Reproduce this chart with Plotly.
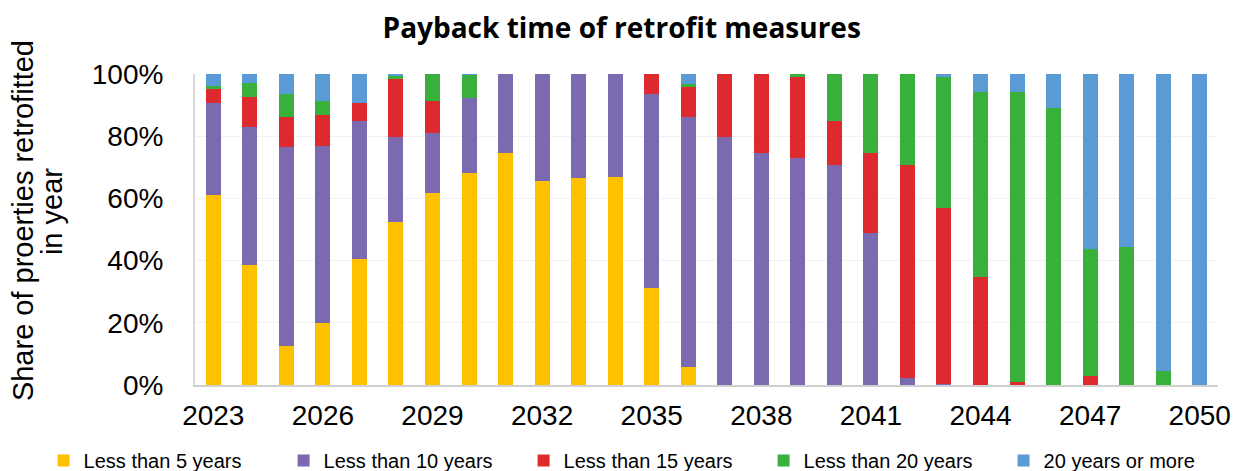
import plotly.graph_objects as go

# datos (porcentaje por anio)
anios = list(range(2023, 2051))
menos_5 = [61.0, 38.6, 12.5, 20.0, 40.6, 52.3, 61.7, 68.2, 74.6, 65.6, 66.5, 66.9, 31.3, 5.7,
           0, 0, 0, 0, 0, 0, 0, 0, 0, 0, 0, 0, 0, 0]
menos_10 = [29.6, 44.3, 63.9, 56.7, 44.3, 27.4, 19.3, 24.0, 25.4, 34.4, 33.5, 33.1, 62.2, 80.4,
            79.7, 74.5, 72.9, 70.6, 48.8, 2.1, 0.2, 0, 0, 0, 0, 0, 0, 0]
menos_15 = [4.5, 9.6, 9.9, 10.0, 5.9, 18.6, 10.3, 0, 0, 0, 0, 0, 6.5, 9.8,
            20.3, 25.5, 26.0, 14.2, 25.7, 68.5, 56.8, 34.6, 1.1, 0, 3.0, 0, 0, 0]
menos_20 = [1.1, 4.5, 7.3, 4.5, 0, 1.3, 8.7, 7.6, 0, 0, 0, 0, 0, 1.0,
            0, 0, 1.1, 15.2, 25.5, 29.4, 41.9, 59.7, 93.2, 89.2, 40.6, 44.5, 4.6, 0]
mas_20 = [3.8, 3.0, 6.4, 8.8, 9.2, 0.4, 0, 0.2, 0, 0, 0, 0, 0, 3.1,
          0, 0, 0, 0, 0, 0, 1.1, 5.7, 5.7, 10.8, 56.4, 55.5, 95.4, 100]

series = [
    ("Less than 5 years", menos_5, "#FFC000"),
    ("Less than 10 years", menos_10, "#7B6AAF"),
    ("Less than 15 years", menos_15, "#DD2A2E"),
    ("Less than 20 years", menos_20, "#3AB03C"),
    ("20 years or more", mas_20, "#5B9BD5"),
]

fig = go.Figure()
for nombre, valores, color in series:
    fig.add_trace(go.Bar(
        x=anios,
        y=[v / 100 for v in valores],
        name=nombre,
        marker=dict(color=color, line=dict(width=0)),
    ))

fig.update_layout(
    barmode="stack",
    bargap=0.59,
    width=1236,
    height=471,
    margin=dict(l=195, r=18, t=74, b=86, autoexpand=False),
    paper_bgcolor="white",
    plot_bgcolor="white",
    font=dict(family="Liberation Sans, Arial", color="black"),
    title=dict(
        text="<b>Payback time of retrofit measures</b>",
        x=0.503, xanchor="center", y=0.94, yanchor="middle",
        font=dict(family="Open Sans", size=28, color="black"),
    ),
    legend=dict(
        orientation="h",
        traceorder="normal",
        x=-0.148, xanchor="left",
        y=-0.18, yanchor="top",
        font=dict(size=20),
        entrywidth=195,
        itemwidth=30,
    ),
)

# titulo del eje y en dos lineas (interlineado mas corto que el de plotly)
fig.add_annotation(text="Share of proerties retrofitted", xref="paper", yref="paper",
                   x=(23 - 195) / 1023, y=0.527, xanchor="center", yanchor="middle",
                   textangle=-90, showarrow=False, font=dict(size=29))
fig.add_annotation(text="in year", xref="paper", yref="paper",
                   x=(52 - 195) / 1023, y=0.556, xanchor="center", yanchor="middle",
                   textangle=-90, showarrow=False, font=dict(size=29))

fig.update_xaxes(
    range=[2022.5, 2050.5],
    tickmode="linear", tick0=2023, dtick=3,
    tickfont=dict(size=28),
    showline=True, linecolor="#D0D0D0", linewidth=2,
    ticks="outside", ticklen=4, tickcolor="rgba(0,0,0,0)",
    showgrid=False, automargin=False,
)
fig.update_yaxes(
    range=[0, 1],
    tickformat=".0%", dtick=0.2,
    tickfont=dict(size=28),
    showgrid=True, gridcolor="#F2F2F2", gridwidth=1,
    showline=True, linecolor="#D9D9D9", linewidth=2,
    ticks="outside", ticklen=24, tickcolor="rgba(0,0,0,0)",
    automargin=False,
)

fig.write_html("out.html", config={"displayModeBar": False},
               post_script="document.body.style.margin = '0';")
